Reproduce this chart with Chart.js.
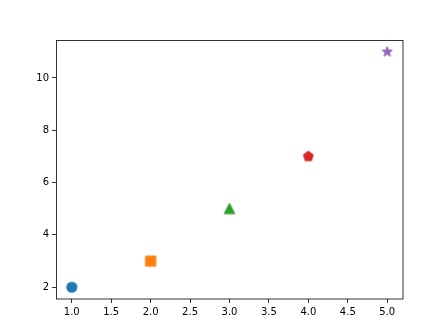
<!DOCTYPE html>
<html>
<head>
<meta charset="utf-8">
<script src="https://cdn.jsdelivr.net/npm/chart.js@4/dist/chart.umd.min.js"></script>
<style>
html,body{margin:0;padding:0;background:#fff;}
canvas{display:block;}
</style>
</head>
<body>
<canvas id="c" width="448" height="336"></canvas>
<script>
const xValues = [1, 2, 3, 4, 5];
const yValues = [2, 3, 5, 7, 11];
const colors = ['#1f77b4', '#ff7f0e', '#2ca02c', '#d62728', '#9467bd'];
const markers = ['circle', 'square', 'triangle', 'pentagon', 'star'];
const xTicks = [1.0, 1.5, 2.0, 2.5, 3.0, 3.5, 4.0, 4.5, 5.0];
const yTicks = [2, 4, 6, 8, 10];

const MS = 9.72;   // marker size in px
const LW = 1.46;   // marker edge width

function makeMarker(shape, color) {
  const size = 16;
  const cv = document.createElement('canvas');
  cv.width = size; cv.height = size;
  const ctx = cv.getContext('2d');
  const c = size / 2;
  const h = MS / 2;
  ctx.fillStyle = color;
  ctx.strokeStyle = color;
  ctx.lineWidth = LW;
  ctx.lineJoin = 'round';
  ctx.beginPath();
  if (shape === 'circle') {
    ctx.arc(c, c, h, 0, Math.PI * 2);
  } else if (shape === 'square') {
    ctx.rect(c - h, c - h, 2 * h, 2 * h);
  } else if (shape === 'triangle') {
    ctx.moveTo(c, c - h);
    ctx.lineTo(c - h, c + h);
    ctx.lineTo(c + h, c + h);
    ctx.closePath();
  } else if (shape === 'pentagon') {
    for (let i = 0; i < 5; i++) {
      const a = -Math.PI / 2 + i * 2 * Math.PI / 5;
      const px = c + h * Math.cos(a), py = c + h * Math.sin(a);
      if (i === 0) ctx.moveTo(px, py); else ctx.lineTo(px, py);
    }
    ctx.closePath();
  } else if (shape === 'star') {
    const inner = h * 0.381966;
    for (let i = 0; i < 10; i++) {
      const a = -Math.PI / 2 + i * Math.PI / 5;
      const r = (i % 2 === 0) ? h : inner;
      const px = c + r * Math.cos(a), py = c + r * Math.sin(a);
      if (i === 0) ctx.moveTo(px, py); else ctx.lineTo(px, py);
    }
    ctx.closePath();
  }
  ctx.fill();
  ctx.stroke();
  return cv;
}

const datasets = xValues.map((x, i) => ({
  data: [{x: x, y: yValues[i]}],
  pointStyle: makeMarker(markers[i], colors[i]),
  pointRadius: 6,
  backgroundColor: colors[i],
  borderColor: colors[i]
}));

const framePlugin = {
  id: 'frame',
  afterDraw(chart) {
    const a = chart.chartArea;
    const ctx = chart.ctx;
    ctx.save();
    ctx.strokeStyle = '#000';
    ctx.lineWidth = 0.8;
    ctx.strokeRect(a.left + 0.5, a.top + 0.5, a.right - a.left - 0.5, a.bottom - a.top - 0.5);
    ctx.restore();
  }
};

const tickFont = {family: 'DejaVu Sans', size: 10};

new Chart(document.getElementById('c'), {
  type: 'scatter',
  data: {datasets: datasets},
  options: {
    responsive: false,
    animation: false,
    events: [],
    layout: {padding: {left: 0, top: 40, right: 45, bottom: 0}},
    plugins: {legend: {display: false}, tooltip: {enabled: false}},
    scales: {
      x: {
        type: 'linear',
        min: 0.8, max: 5.2,
        afterBuildTicks: s => { s.ticks = xTicks.map(v => ({value: v})); },
        afterFit: s => { s.height = 37; },
        border: {display: false},
        grid: {drawOnChartArea: false, drawTicks: true, tickLength: 4, tickColor: '#000', tickWidth: 0.8},
        ticks: {color: '#000', font: tickFont, padding: 3, maxRotation: 0, autoSkip: false,
                callback: v => Number(v).toFixed(1)}
      },
      y: {
        type: 'linear',
        min: 1.55, max: 11.45,
        afterBuildTicks: s => { s.ticks = yTicks.map(v => ({value: v})); },
        afterFit: s => { s.width = 56; },
        border: {display: false},
        grid: {drawOnChartArea: false, drawTicks: true, tickLength: 4, tickColor: '#000', tickWidth: 0.8},
        ticks: {color: '#000', font: tickFont, padding: 3, autoSkip: false,
                callback: v => String(v)}
      }
    }
  },
  plugins: [framePlugin]
});
</script>
</body>
</html>
